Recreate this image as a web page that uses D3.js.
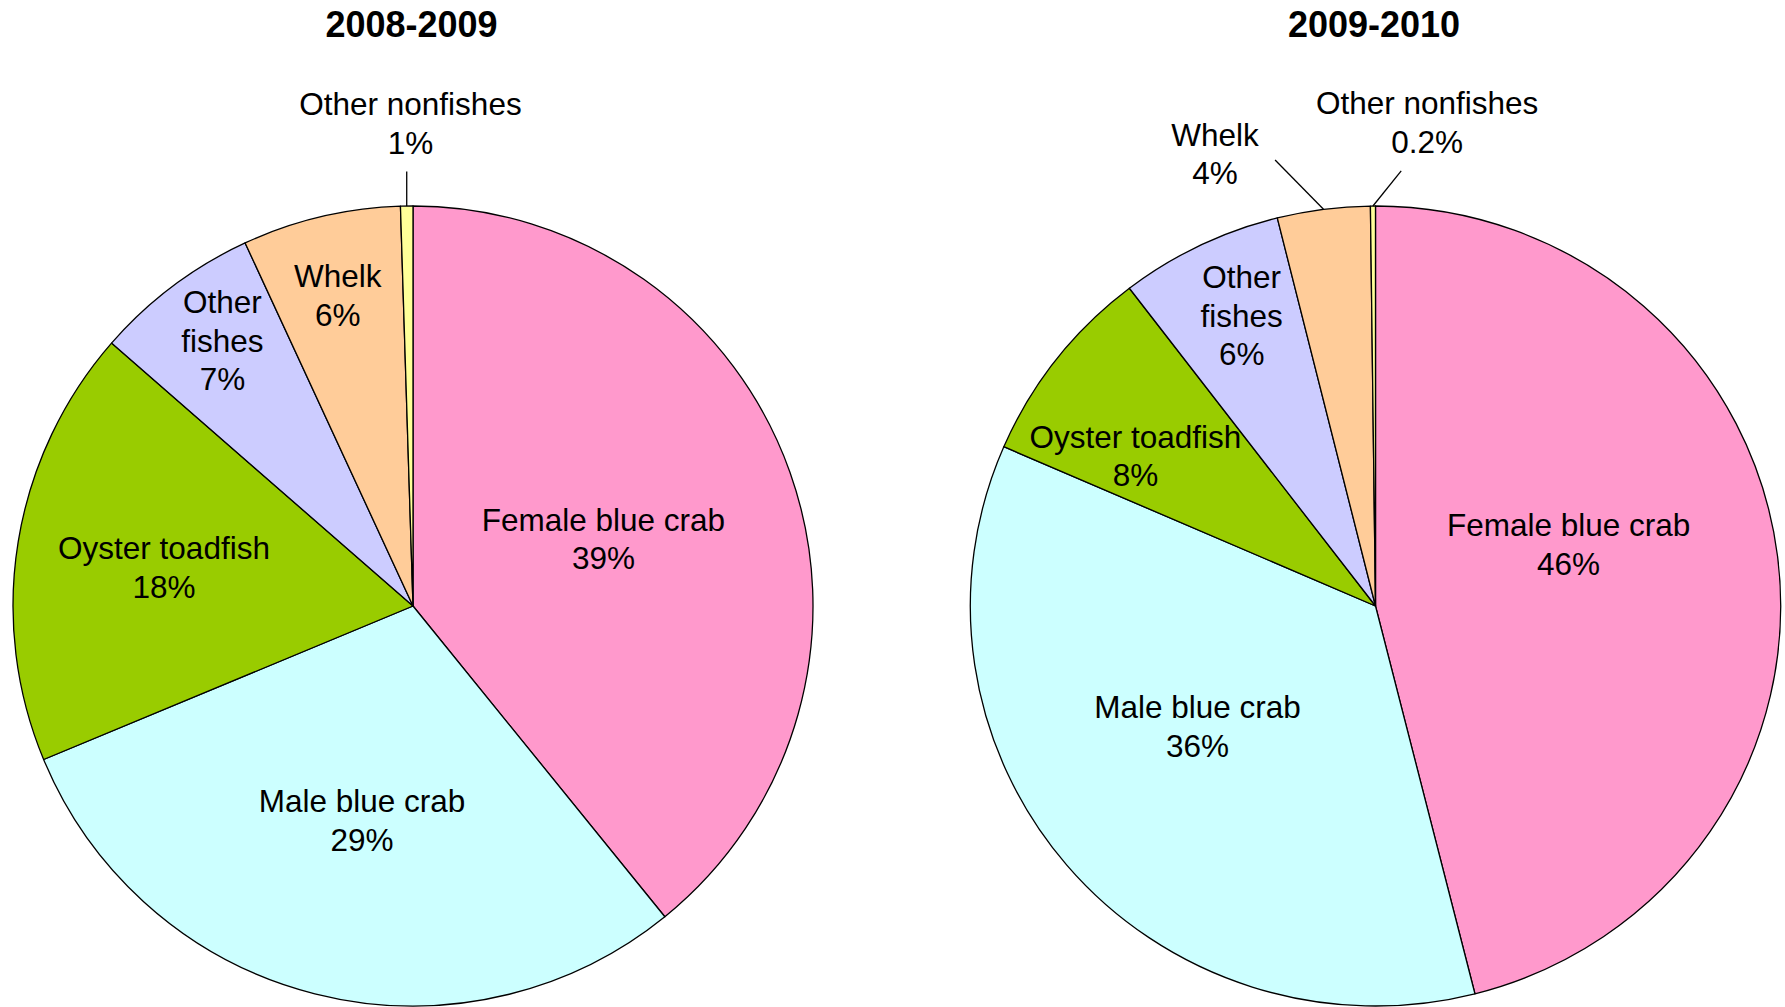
<!DOCTYPE html>
<html>
<head>
<meta charset="utf-8">
<script src="https://cdn.jsdelivr.net/npm/d3@7"></script>
<style>
  html, body { margin: 0; padding: 0; background: #fff; }
  svg text { font-family: "Liberation Sans", Arial, sans-serif; fill: #000; }
</style>
</head>
<body>
<div id="chart"></div>
<script>
// two pie charts of bycatch composition, one per season

//categories, in clockwise order from 12 o'clock
var categories = ["Female blue crab", "Male blue crab", "Oyster toadfish", "Other\nfishes", "Whelk", "Other nonfishes"];
var sliceColors = ["#ff99cc", "#ccffff", "#99cc00", "#ccccff", "#ffcc99", "#ffff99"];

//2008-2009 season, share in percent
var values0809 = [39.2, 29.6, 17.7, 6.7, 6.4, 0.5];
var pctLabels0809 = ["39%", "29%", "18%", "7%", "6%", "1%"];

//2009-2010 season
var values0910 = [46.1, 35.5, 8.1, 6.5, 3.7, 0.2];
var pctLabels0910 = ["46%", "36%", "8%", "6%", "4%", "0.2%"];

var titles = ["2008-2009", "2009-2010"];

//label placement (fraction of radius, angle nudge in degrees) - mimics excel "best fit"
var labelRadius0809 = [0.505, 0.55, 0.63, 0.817, 0.80, 1.2075];
var labelNudge0809 = [0, -0.8, -0.4, 1.2, -0.3, 0.6];
var labelRadius0910 = [0.507, 0.537, 0.708, 0.80, 1.20, 1.216];
var labelNudge0910 = [-10.7, 6.35, -6, 1, -12.15, 6.45];

(function(){
  var width = 1785, height = 1007;
  var fontSize = 31.5, lineHeight = 38.4;

  var svg = d3.select("#chart")
    .append("svg")
    .attr("width", width)
    .attr("height", height);

  var charts = [
    {title: titles[0], values: values0809, pct: pctLabels0809, kr: labelRadius0809, nudge: labelNudge0809,
     cx: 413, cy: 606, r: 400, sx: 1},
    {title: titles[1], values: values0910, pct: pctLabels0910, kr: labelRadius0910, nudge: labelNudge0910,
     cx: 1375.5, cy: 606, r: 400, sx: 1.013}
  ];

  charts.forEach(drawPie);

  function drawPie(c){
    var pie = d3.pie().sort(null).value(function(d){ return d; });
    var arcs = pie(c.values);
    var arc = d3.arc().innerRadius(0).outerRadius(c.r);

    //title
    svg.append("text")
      .attr("x", c.cx - 1.5)
      .attr("y", 36.5)
      .attr("text-anchor", "middle")
      .style("font-size", "36px")
      .style("font-weight", "bold")
      .text(c.title);

    //slices
    svg.append("g")
      .attr("transform", "translate(" + c.cx + "," + c.cy + ") scale(" + c.sx + ",1)")
      .selectAll("path")
      .data(arcs)
      .enter()
      .append("path")
      .attr("d", arc)
      .attr("fill", function(d, i){ return sliceColors[i]; })
      .attr("stroke", "#000")
      .attr("stroke-width", 1.3)
      .attr("stroke-linejoin", "round")
      .attr("vector-effect", "non-scaling-stroke");

    var lineLayer = svg.append("g");
    var labelLayer = svg.append("g");

    arcs.forEach(function(d, i){
      var mid = (d.startAngle + d.endAngle) / 2;
      var a = mid + c.nudge[i] * Math.PI / 180;
      var lx = c.cx + Math.sin(a) * c.kr[i] * c.r;
      var ly = c.cy - Math.cos(a) * c.kr[i] * c.r;

      var lines = categories[i].split("\n").concat([c.pct[i]]);
      var g = labelLayer.append("g");
      var top = ly - (lines.length - 1) * lineHeight / 2;
      var last;
      lines.forEach(function(t, j){
        last = g.append("text")
          .attr("x", lx)
          .attr("y", top + j * lineHeight + 0.36 * fontSize)
          .attr("text-anchor", "middle")
          .style("font-size", fontSize + "px")
          .text(t);
      });

      //leader line for labels outside the pie
      if (c.kr[i] > 1){
        var p0 = [c.cx + Math.sin(mid) * c.r * c.sx, c.cy - Math.cos(mid) * c.r];
        var end = leaderEnd(p0, g.node().getBBox(), last.node().getBBox());
        lineLayer.append("line")
          .attr("x1", p0[0]).attr("y1", p0[1])
          .attr("x2", end[0]).attr("y2", end[1])
          .attr("stroke", "#000")
          .attr("stroke-width", 1.3);
      }
    });
  }

  //where the leader line meets the label: under it if the slice is below, otherwise at its side
  function leaderEnd(p, box, lastBox){
    if (p[0] >= box.x && p[0] <= box.x + box.width){
      var x = Math.max(lastBox.x + 10, Math.min(lastBox.x + lastBox.width - 10, p[0]));
      return [x, box.y + box.height + 11];
    }
    var right = p[0] > box.x + box.width;
    return [right ? box.x + box.width + 16 : box.x - 16, box.y + box.height / 2 + 6];
  }
})();
</script>
</body>
</html>
